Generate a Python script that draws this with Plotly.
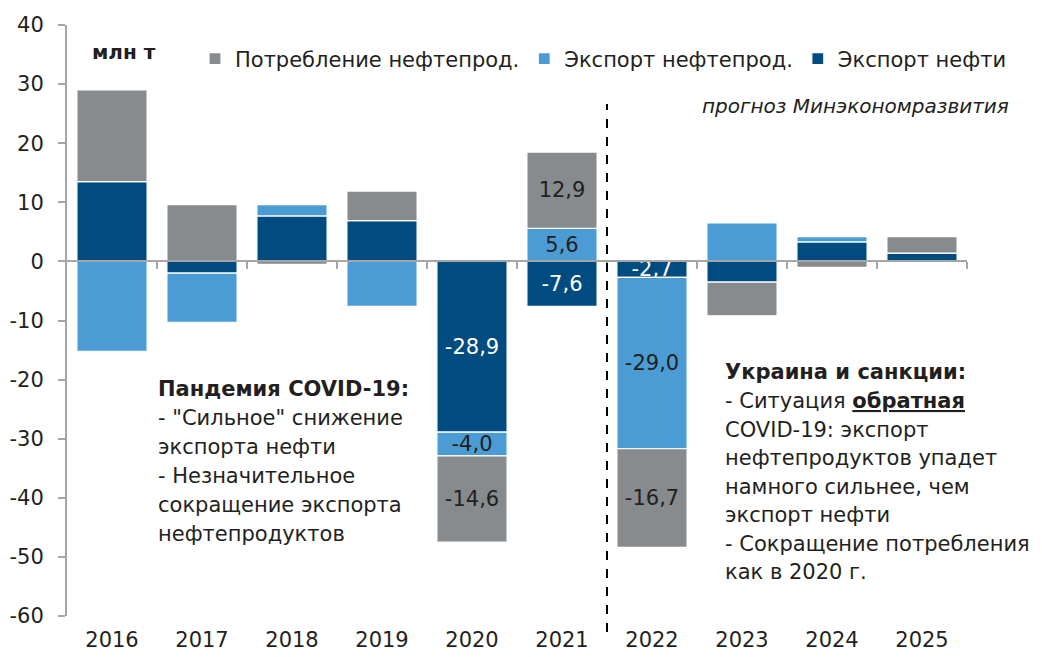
import plotly.graph_objects as go

# ---- data ----
years = [2016, 2017, 2018, 2019, 2020, 2021, 2022, 2023, 2024, 2025]
oil_export = [13.5, -2.0, 7.7, 6.9, -28.9, -7.6, -2.7, -3.5, 3.3, 1.4]
products_export = [-15.2, -8.3, 1.9, -7.6, -4.0, 5.6, -29.0, 6.5, 0.9, 0.0]
consumption = [15.5, 9.6, -0.5, 5.0, -14.6, 12.9, -16.7, -5.7, -1.0, 2.8]
labeled_years = [2020, 2021, 2022]
y_ticks = [-60, -50, -40, -30, -20, -10, 0, 10, 20, 30, 40]

names = {
    "oil": "Экспорт нефти",
    "prod": "Экспорт нефтепрод.",
    "cons": "Потребление нефтепрод.",
}

C_DARK = "#004C80"
C_LIGHT = "#4B9CD4"
C_GRAY = "#878B8E"
TXT = "#231F20"
FONT = "DejaVu Sans, Liberation Sans, Arial, sans-serif"
FS = 21

x = list(range(len(years)))


def labels(vals):
    return [f"{v:.1f}".replace(".", ",") if y in labeled_years else "" for y, v in zip(years, vals)]


fig = go.Figure()
for key, vals, col, tcol in [
    ("oil", oil_export, C_DARK, "white"),
    ("prod", products_export, C_LIGHT, TXT),
    ("cons", consumption, C_GRAY, TXT),
]:
    fig.add_trace(go.Bar(
        x=x, y=vals, name=names[key],
        marker=dict(color=col, line=dict(color="white", width=1.2)),
        text=labels(vals), textposition="inside", insidetextanchor="middle",
        textangle=0, constraintext="none", cliponaxis=False,
        textfont=dict(color=tcol, size=FS, family=FONT),
        hoverinfo="skip",
    ))

# helper trace for the zero axis with category-boundary ticks
fig.add_trace(go.Scatter(x=[], y=[], xaxis="x2", showlegend=False, hoverinfo="skip"))

L, R, T, B = 67, 75, 25, 41
W, H = 1042, 657
PW, PH = W - L - R, H - T - B


def px(p):
    return (p - L) / PW


def py(p):
    return (H - B - p) / PH


annotations = [
    dict(text="<b>млн т</b>", x=px(90), y=py(52), xanchor="left", yanchor="middle",
         font=dict(size=FS - 1, color=TXT, family=FONT)),
    dict(text="<i>прогноз Минэкономразвития</i>", x=px(1011), y=py(106), xanchor="right",
         yanchor="middle", font=dict(size=FS - 1, color=TXT, family=FONT)),
]

covid_lines = ["<b>Пандемия COVID-19:</b>", "- \"Сильное\" снижение", "экспорта нефти",
               "- Незначительное", "сокращение экспорта", "нефтепродуктов"]
covid_y = [389, 418, 447, 476, 505, 534]
for t, yy in zip(covid_lines, covid_y):
    annotations.append(dict(text=t, x=px(156), y=py(yy), xanchor="left", yanchor="middle",
                            font=dict(size=FS, color=TXT, family=FONT)))

ukr_lines = ["<b>Украина и санкции:</b>", "- Ситуация <u><b>обратная</b></u>", "COVID-19: экспорт",
             "нефтепродуктов упадет", "намного сильнее, чем", "экспорт нефти",
             "- Сокращение потребления", "как в 2020 г."]
ukr_y = [372, 401, 430, 458, 487, 515, 544, 572]
for t, yy in zip(ukr_lines, ukr_y):
    annotations.append(dict(text=t, x=px(723), y=py(yy), xanchor="left", yanchor="middle",
                            font=dict(size=FS, color=TXT, family=FONT)))

for a in annotations:
    a.update(xref="paper", yref="paper", showarrow=False)

fig.update_layout(
    width=W, height=H,
    margin=dict(l=L, r=R, t=T, b=B, pad=0, autoexpand=False),
    paper_bgcolor="white", plot_bgcolor="white",
    barmode="relative", bargap=0.22,
    font=dict(family=FONT, size=FS, color=TXT),
    showlegend=True,
    legend=dict(orientation="h", traceorder="reversed", x=px(195), y=py(59),
                xanchor="left", yanchor="middle", font=dict(size=FS, color=TXT, family=FONT),
                bgcolor="rgba(0,0,0,0)"),
    uniformtext=dict(minsize=FS, mode="show"),
    xaxis=dict(range=[-0.5, len(years) - 0.5], tickvals=x, ticktext=[str(y) for y in years],
               showline=False, ticks="", showgrid=False, zeroline=False, automargin=False,
               ticklabelstandoff=9, tickfont=dict(size=FS, color=TXT, family=FONT)),
    xaxis2=dict(overlaying="x", anchor="free",
                position=(0 - y_ticks[0]) / (y_ticks[-1] - y_ticks[0]),
                side="bottom", range=[-0.5, len(years) - 0.5],
                tickvals=[i + 0.5 for i in x], showticklabels=False,
                ticks="outside", ticklen=7, tickwidth=2, tickcolor="#A6A6A6",
                showline=True, linecolor="#A6A6A6", linewidth=2, automargin=False,
                showgrid=False, zeroline=False),
    yaxis=dict(range=[y_ticks[0], y_ticks[-1]], tickvals=y_ticks,
               ticktext=[str(v) for v in y_ticks], automargin=False,
               showline=True, linecolor="#A6A6A6", linewidth=2,
               ticks="outside", ticklen=7, tickwidth=2, tickcolor="#A6A6A6",
               showgrid=False, zeroline=False, ticklabelstandoff=10,
               tickfont=dict(size=FS, color=TXT, family=FONT)),
    annotations=annotations,
    shapes=[dict(type="line", xref="x", yref="paper", x0=5.5, x1=5.5,
                 y0=py(632), y1=py(104), line=dict(color="black", width=2, dash="dash"))],
)

fig.write_html("out.html", config={"displayModeBar": False},
               post_script="document.body.style.margin='0';")
